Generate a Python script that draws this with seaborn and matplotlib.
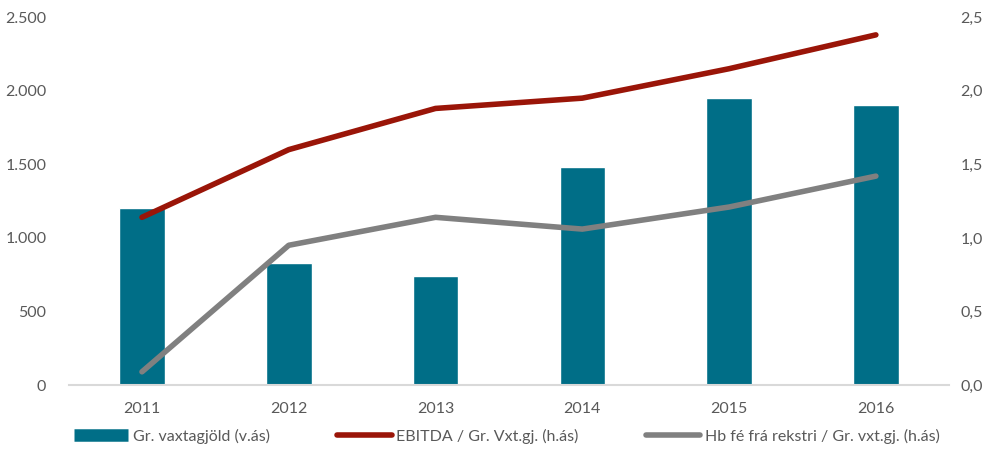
import pandas as pd
import matplotlib.pyplot as plt
import seaborn as sns
from matplotlib.ticker import FuncFormatter
from matplotlib.lines import Line2D

years = ["2011", "2012", "2013", "2014", "2015", "2016"]
interest = [1202, 829, 740, 1481, 1950, 1902]
ebitda_ratio = [1.14, 1.60, 1.88, 1.95, 2.15, 2.38]
cashflow_ratio = [0.09, 0.95, 1.14, 1.06, 1.21, 1.42]

bar_label = "Gr. vaxtagjöld (v.ás)"
red_label = "EBITDA / Gr. Vxt.gj. (h.ás)"
gray_label = "Hb fé frá rekstri / Gr. vxt.gj. (h.ás)"

teal = "#006E87"
red = "#9A1508"
gray = "#808080"
text_color = "#595959"

sns.set_style("white")
plt.rcParams["font.family"] = ["Lato", "DejaVu Sans"]

df = pd.DataFrame({"year": years, "interest": interest,
                   "ebitda": ebitda_ratio, "cash": cashflow_ratio})

fig, ax = plt.subplots(figsize=(9.94, 4.53), dpi=100)
fig.subplots_adjust(left=0.069, right=0.955, top=0.962, bottom=0.15)

sns.barplot(data=df, x="year", y="interest", color=teal, width=0.31,
            saturation=1, ax=ax)
ax.set_ylim(0, 2500)
ax.set_yticks(range(0, 2501, 500))
ax.yaxis.set_major_formatter(FuncFormatter(lambda v, p: f"{int(v):,}".replace(",", ".")))
ax.set_xlim(-0.5, 5.5)
ax.set_xlabel("")
ax.set_ylabel("")

ax2 = ax.twinx()
x = list(range(len(years)))
sns.lineplot(x=x, y=df["ebitda"], color=red, linewidth=4, ax=ax2,
             solid_capstyle="round")
sns.lineplot(x=x, y=df["cash"], color=gray, linewidth=4, ax=ax2,
             solid_capstyle="round")
ax2.set_ylim(0, 2.5)
ax2.set_yticks([0, 0.5, 1.0, 1.5, 2.0, 2.5])
ax2.yaxis.set_major_formatter(FuncFormatter(lambda v, p: f"{v:.1f}".replace(".", ",")))
ax2.set_xlim(-0.5, 5.5)
ax2.set_ylabel("")

for a in (ax, ax2):
    for s in a.spines.values():
        s.set_visible(False)
    a.tick_params(length=0, labelsize=11.5, labelcolor=text_color)
ax.tick_params(axis="x", pad=12)
ax.tick_params(axis="y", pad=16)
ax2.tick_params(axis="y", pad=8)
ax.spines["bottom"].set_visible(True)
ax.spines["bottom"].set_color("#D9D9D9")
ax.spines["bottom"].set_linewidth(1.5)

handles = [
    Line2D([0], [0], color=teal, linewidth=9, solid_capstyle="butt"),
    Line2D([0], [0], color=red, linewidth=4, solid_capstyle="round"),
    Line2D([0], [0], color=gray, linewidth=4, solid_capstyle="round"),
]
fig.legend(handles, [bar_label, red_label, gray_label], loc="lower center",
           bbox_to_anchor=(0.51, -0.012), ncol=3, frameon=False, fontsize=11.5,
           labelcolor=text_color, handlelength=3.4, handletextpad=0.3,
           columnspacing=4.2)

plt.savefig("out.png", dpi=100)
plt.close()
